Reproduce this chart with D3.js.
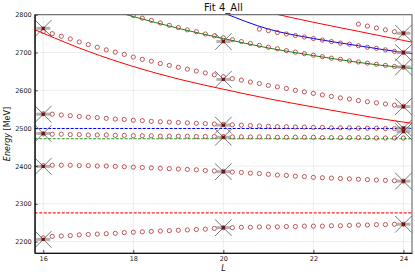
<!DOCTYPE html>
<html>
<head>
<meta charset="utf-8">
<script src="https://cdn.jsdelivr.net/npm/d3@7"></script>
<style>
body { margin: 0; background: #fff; }
text { font-family: "DejaVu Sans", sans-serif; }
</style>
</head>
<body>
<script>
// model points, one value per L
var L = [16,16.2,16.4,16.6,16.8,17,17.2,17.4,17.6,17.8,18,18.2,18.4,18.6,18.8,19,19.2,19.4,19.6,19.8,
         20,20.2,20.4,20.6,20.8,21,21.2,21.4,21.6,21.8,22,22.2,22.4,22.6,22.8,23,23.2,23.4,23.6,23.8,24];
var N = null;
var band1 = [2210,2214,2215,2216,2218,2219,2220,2221,2222,2224,2225,2226,2227,2228,2229,2230,2231,2232,2233,2235,
             2237,2237,2238,2238,2239,2239,2239,2240,2240,2241,2241,2241,2242,2242,2243,2244,2244,2245,2245,2246,2246];
var band2 = [2401,2402,2402,2402,2401,2401,2400,2400,2399,2398,2397,2396,2395,2394,2393,2392,2391,2390,2388,2387,
             2386,2384,2383,2381,2380,2378,2376,2375,2373,2372,2370,2369,2368,2367,2366,2365,2364,2363,2362,2361,2360];
var band3 = [2485,2484,2484,2483,2483,2482,2482,2482,2481,2481,2480,2480,2480,2479,2479,2479,2479,2478,2478,2478,
             2478,2477,2477,2477,2477,2477,2476,2476,2476,2476,2476,2475,2475,2475,2475,2475,2475,2474,2474,2474,2474];
var band4 = [2538,2537,2535,2533,2531,2529,2528,2526,2524,2523,2521,2520,2518,2517,2516,2515,2514,2513,2512,2511,
             2510,2509,2508,2507,2506,2505,2504,2504,2503,2503,2502,2502,2501,2501,2501,2500,2500,2500,2499,2499,2499];
var band5 = [2755,2750,2743,2736,2728,2721,2714,2707,2701,2695,2688,2682,2677,2671,2666,2661,2656,2651,2646,2641,
             2636,2631,2627,2622,2618,2613,2609,2605,2600,2596,2592,2588,2584,2580,2577,2573,2570,2567,2564,2561,2558];
var band6 = [N,N,N,N,N,N,N,N,N,2806,2798,2791,2785,2778,2772,2766,2760,2755,2749,2744,
             2739,2734,2729,2724,2719,2714,2710,2705,2701,2697,2693,2689,2685,2682,2678,2675,2672,2669,2666,2663,2661];
var band7 = [N,N,N,N,N,N,N,N,N,N,N,N,N,N,N,N,N,N,N,N,
             N,N,N,N,2762,2758,2753,2749,2745,2741,2737,2733,2729,2725,2722,2718,2714,2711,2707,2703,2700];
var band8 = [N,N,N,N,N,N,N,N,N,N,N,N,N,N,N,N,N,N,N,N,
             N,N,N,N,N,N,N,N,N,N,N,N,N,N,N,2775,2770,2765,2760,2755,2751];

// fit curves
var fitL = [15.8,16,17,18,19,20,21,22,23,24,24.2];
var fitRed1  = [2761,2751,2703,2663,2630,2603,2578,2556,2535,2516,2513];
var fitGreen = [2875,2867,2829,2795,2764,2737,2712,2692,2674,2660,2658];
var fitBlue  = [N,N,N,N,N,2805,2762,2737,2718,2700,2697];
var fitRed2  = [N,N,N,N,N,N,2806,2780,2756,2732,2727];
var flatRed = 2276, flatBlue = 2499, flatGreen = 2472;

// measured states
var expL = [16,16,16,16,16, 20,20,20,20,20,20, 24,24,24,24,24,24,24,24];
var expE = [2764,2537,2486,2399,2206, 2729,2629,2508,2476,2385,2237, 2751,2700,2662,2557,2500,2491,2360,2246];

var xTicks = [16,18,20,22,24];
var yTicks = [2200,2300,2400,2500,2600,2700,2800];

var W = 415, H = 277;
var svg = d3.select('body').append('svg').attr('width', W).attr('height', H);

var x = d3.scaleLinear().domain([15.81, 24.19]).range([34.7, 412]);
var y = d3.scaleLinear().domain([2170, 2800]).range([253, 14.7]);

svg.append('defs').append('clipPath').attr('id', 'clip')
   .append('rect').attr('x', 34.7).attr('y', 14.7).attr('width', 412 - 34.7).attr('height', 253 - 14.7);

// grid
svg.selectAll('line.gx').data(xTicks).enter().append('line')
   .attr('x1', d => x(d)).attr('x2', d => x(d)).attr('y1', 14.7).attr('y2', 253)
   .attr('stroke', '#e6e6e6').attr('stroke-width', 0.7);
svg.selectAll('line.gy').data(yTicks).enter().append('line')
   .attr('y1', d => y(d)).attr('y2', d => y(d)).attr('x1', 34.7).attr('x2', 412)
   .attr('stroke', '#e6e6e6').attr('stroke-width', 0.7);

var plot = svg.append('g').attr('clip-path', 'url(#clip)');

function fitLine(vals, color) {
  var pts = fitL.map((l, i) => [l, vals[i]]).filter(p => p[1] != null);
  plot.append('path').datum(pts)
      .attr('d', d3.line().x(p => x(p[0])).y(p => y(p[1])).curve(d3.curveMonotoneX))
      .attr('fill', 'none').attr('stroke', color).attr('stroke-width', 1);
}
fitLine(fitRed1, '#ff0000');
fitLine(fitRed2, '#ff0000');
fitLine(fitGreen, '#0a8a0a');
fitLine(fitBlue, '#0000ff');

[[flatRed, '#ff2020'], [flatBlue, '#0000ff'], [flatGreen, '#1a9a1a']].forEach(function(f) {
  plot.append('line')
      .attr('x1', x(15.81)).attr('x2', x(24.19)).attr('y1', y(f[0])).attr('y2', y(f[0]))
      .attr('stroke', f[1]).attr('stroke-width', 1.1).attr('stroke-dasharray', '3,1.5');
});

// model circles
[band1, band2, band3, band4, band5, band6, band7, band8].forEach(function(b) {
  plot.selectAll(null).data(L.map((l, i) => [l, b[i]]).filter(p => p[1] != null))
      .enter().append('circle')
      .attr('cx', p => x(p[0])).attr('cy', p => y(p[1])).attr('r', 2.1)
      .attr('fill', 'none').attr('stroke', '#b03030').attr('stroke-width', 0.8);
});

// measured states: bar, cross and dot
var ex = expL.map((l, i) => [l, expE[i]]);
var g = plot.selectAll('g.exp').data(ex).enter().append('g').attr('class', 'exp')
   .attr('transform', p => 'translate(' + x(p[0]) + ',' + y(p[1]) + ')');
g.append('line').attr('x1', -7).attr('x2', 7).attr('y1', 0).attr('y2', 0)
   .attr('stroke', '#999').attr('stroke-width', 3).attr('opacity', 0.75);
g.append('path').attr('d', 'M-8.3,-8.3L8.3,8.3M-8.3,8.3L8.3,-8.3')
   .attr('stroke', '#555').attr('stroke-width', 0.8).attr('fill', 'none');
g.append('rect').attr('x', -1.6).attr('y', -1.6).attr('width', 3.2).attr('height', 3.2)
   .attr('fill', '#7a1010');

// frame
svg.append('rect').attr('x', 34.7).attr('y', 14.7).attr('width', 412 - 34.7).attr('height', 253 - 14.7)
   .attr('fill', 'none').attr('stroke', '#555').attr('stroke-width', 1);

var ax = svg.append('g').attr('transform', 'translate(0,253)')
   .call(d3.axisBottom(x).tickValues(xTicks).tickFormat(d3.format('d')).tickSizeInner(-3).tickSizeOuter(0).tickPadding(3));
var ay = svg.append('g').attr('transform', 'translate(34.7,0)')
   .call(d3.axisLeft(y).tickValues(yTicks).tickFormat(d3.format('d')).tickSizeInner(-3).tickSizeOuter(0).tickPadding(3));
[ax, ay].forEach(function(a) {
  a.select('.domain').attr('stroke', '#111').attr('stroke-width', 1.2);
  a.selectAll('.tick line').attr('stroke', '#111').attr('stroke-width', 0.8);
  a.selectAll('.tick text').attr('font-family', 'DejaVu Sans').attr('font-size', 6.5).attr('fill', '#222');
});

svg.append('text').attr('x', 223.4).attr('y', 10.7).attr('text-anchor', 'middle')
   .attr('font-size', 10).attr('fill', '#111').text('Fit 4_All');

svg.append('text').attr('x', 223.4).attr('y', 270.5).attr('text-anchor', 'middle')
   .attr('font-size', 8).attr('font-style', 'italic').attr('fill', '#111').text('L');

var yl = svg.append('text').attr('transform', 'translate(10,134) rotate(-90)')
   .attr('text-anchor', 'middle').attr('font-size', 8).attr('fill', '#111');
yl.append('tspan').attr('font-style', 'italic').text('Energy');
yl.append('tspan').text(' [MeV]');
</script>
</body>
</html>
